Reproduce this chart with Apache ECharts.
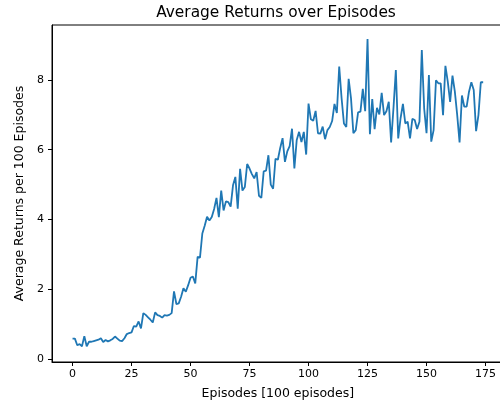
<!DOCTYPE html>
<html>
<head>
<meta charset="utf-8">
<script src="https://cdn.jsdelivr.net/npm/echarts@6/dist/echarts.min.js"></script>
<style>html,body{margin:0;padding:0;background:#fff}#c{width:500px;height:405px}</style>
</head>
<body>
<div id="c"></div>
<script>
var titleText = "Average Returns over Episodes";
var xName = "Episodes [100 episodes]";
var yName = "Average Returns per 100 Episodes";
var xTicks = [0, 25, 50, 75, 100, 125, 150, 175];
var yTicks = [0, 2, 4, 6, 8];
var returns = [
  0.59, 0.59, 0.40, 0.43, 0.37, 0.66, 0.37, 0.50, 0.50, 0.52,
  0.54, 0.56, 0.60, 0.49, 0.55, 0.51, 0.54, 0.58, 0.65, 0.59,
  0.53, 0.52, 0.60, 0.72, 0.75, 0.77, 0.95, 0.93, 1.08, 0.88,
  1.32, 1.27, 1.20, 1.13, 1.05, 1.34, 1.26, 1.24, 1.19, 1.26,
  1.25, 1.27, 1.32, 1.94, 1.58, 1.60, 1.79, 2.03, 1.93, 2.12,
  2.33, 2.37, 2.17, 2.93, 2.91, 3.60, 3.82, 4.08, 3.97, 4.07,
  4.30, 4.62, 4.07, 4.83, 4.26, 4.52, 4.50, 4.37, 4.98, 5.22,
  4.31, 5.45, 4.83, 4.93, 5.59, 5.46, 5.30, 5.18, 5.36, 4.68,
  4.62, 5.38, 5.40, 5.84, 5.00, 4.88, 5.74, 5.71, 6.05, 6.33,
  5.65, 5.95, 6.10, 6.60, 5.46, 6.28, 6.51, 6.22, 6.51, 5.86,
  7.32, 6.87, 6.83, 7.11, 6.47, 6.46, 6.66, 6.30, 6.56, 6.65,
  6.82, 7.31, 7.05, 8.38, 7.48, 6.75, 6.65, 8.03, 7.47, 6.47,
  6.56, 7.07, 7.09, 7.74, 7.10, 9.17, 6.44, 7.45, 6.59, 7.20,
  7.01, 7.63, 6.99, 7.10, 7.37, 6.21, 7.20, 8.28, 6.32, 6.90,
  7.31, 6.75, 6.80, 6.32, 6.88, 6.85, 6.59, 6.80, 8.85, 7.18,
  6.47, 8.14, 6.23, 6.56, 7.99, 7.90, 7.90, 6.99, 8.40, 7.95,
  7.37, 8.12, 7.66, 6.99, 6.21, 7.55, 7.23, 7.23, 7.66, 7.93,
  7.71, 6.53, 6.99, 7.93, 7.93
];
var episodes = returns.map(function (v, i) { return i; });

var font = "DejaVu Sans";
var chart = echarts.init(document.getElementById('c'), null, {renderer: 'canvas'});
chart.setOption({
  animation: false,
  backgroundColor: '#fff',
  title: {
    text: titleText,
    left: 271,
    top: 0,
    textAlign: 'center',
    textStyle: {fontFamily: font, fontSize: 15.4, fontWeight: 'normal', color: '#000'}
  },
  grid: {
    left: 52, right: -3.7, top: 25, bottom: 43,
    show: true, borderColor: '#000', borderWidth: 1,
    containLabel: false, outerBoundsMode: 'none'
  },
  xAxis: {
    type: 'value',
    min: -8.7, max: 182.7,
    name: xName,
    nameLocation: 'middle',
    nameGap: 25,
    nameTextStyle: {fontFamily: font, fontSize: 12.5, color: '#000'},
    splitLine: {show: false},
    axisLine: {show: true, onZero: false, lineStyle: {color: '#000', width: 1}},
    axisTick: {show: true, inside: false, length: 4, lineStyle: {color: '#000', width: 1}, customValues: xTicks},
    axisLabel: {fontFamily: font, fontSize: 11, color: '#000', margin: 7, customValues: xTicks}
  },
  yAxis: {
    type: 'value',
    min: -0.08, max: 9.57,
    name: yName,
    nameLocation: 'middle',
    nameGap: 24,
    nameRotate: 90,
    nameTextStyle: {fontFamily: font, fontSize: 12.5, color: '#000'},
    splitLine: {show: false},
    axisLine: {show: true, onZero: false, lineStyle: {color: '#000', width: 1}},
    axisTick: {show: true, inside: false, length: 4, lineStyle: {color: '#000', width: 1}, customValues: yTicks},
    axisLabel: {fontFamily: font, fontSize: 11, color: '#000', margin: 8, customValues: yTicks}
  },
  series: [{
    type: 'line',
    data: episodes.map(function (e, i) { return [e, returns[i]]; }),
    showSymbol: false,
    lineStyle: {color: '#1f77b4', width: 1.8},
    itemStyle: {color: '#1f77b4'}
  }]
});
</script>
</body>
</html>
